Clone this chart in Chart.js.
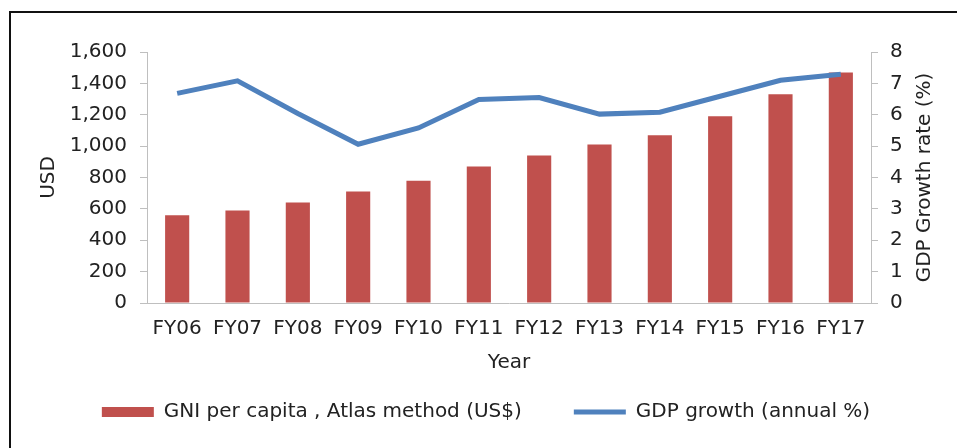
<!DOCTYPE html>
<html>
    <head>
        <title>GNI per capita and GDP growth</title>
        <script src="https://cdn.jsdelivr.net/npm/chart.js"></script>
        <style>
          html, body { margin: 0; background: #fff; overflow: hidden; }
          #myChart { display: block; }
        </style>
    </head>
    <body>
        <canvas id="myChart" width="957" height="448"></canvas>

        <script>
          const years = ['FY06','FY07','FY08','FY09','FY10','FY11','FY12','FY13','FY14','FY15','FY16','FY17'];
          const gniPerCapita = [560, 590, 640, 710, 780, 870, 940, 1010, 1070, 1190, 1330, 1470];
          const gdpGrowth = [6.68, 7.08, 6.04, 5.06, 5.58, 6.49, 6.55, 6.02, 6.08, 6.59, 7.10, 7.29];
          const gniLabel = 'GNI per capita , Atlas method (US$)';
          const gdpLabel = 'GDP growth (annual %)';
          const rightTitle = 'GDP Growth rate (%)';

          const font = { family: 'DejaVu Sans', size: 20 };
          const textColor = '#222';
          const axisColor = '#bfbfbf';

          // dark frame on the top and left edge, like the cropped source picture
          const framePlugin = {
            id: 'frame',
            beforeDraw(chart) {
              const ctx = chart.ctx;
              ctx.save();
              ctx.strokeStyle = '#111';
              ctx.lineWidth = 2;
              ctx.beginPath();
              ctx.moveTo(10, chart.height);
              ctx.lineTo(10, 12);
              ctx.lineTo(chart.width, 12);
              ctx.stroke();
              ctx.restore();
            }
          };

          // right axis title reads bottom-to-top, chart.js only rotates it the other way
          const rightTitlePlugin = {
            id: 'rightTitle',
            afterDraw(chart) {
              const ctx = chart.ctx;
              const area = chart.chartArea;
              ctx.save();
              ctx.translate(925, (area.top + area.bottom) / 2);
              ctx.rotate(-Math.PI / 2);
              ctx.font = '20px "DejaVu Sans"';
              ctx.fillStyle = textColor;
              ctx.textAlign = 'center';
              ctx.textBaseline = 'middle';
              ctx.fillText(rightTitle, 0, 0);
              ctx.restore();
            }
          };

          const ctx = document.getElementById('myChart');
          new Chart(ctx, {
            type: 'bar',
            data: {
              labels: years,
              datasets: [{
                label: gniLabel,
                data: gniPerCapita,
                backgroundColor: '#C0504D',
                barPercentage: 0.4,
                categoryPercentage: 1.0,
                yAxisID: 'y',
                order: 1
              }, {
                type: 'line',
                label: gdpLabel,
                data: gdpGrowth,
                borderColor: '#4F81BD',
                backgroundColor: '#4F81BD',
                borderWidth: 5,
                pointRadius: 0,
                tension: 0,
                yAxisID: 'y1',
                order: 0
              }]
            },
            options: {
              responsive: false,
              animation: false,
              layout: { padding: { top: 52, left: 15, right: 0, bottom: 16 } },
              plugins: {
                tooltip: { enabled: false },
                legend: {
                  position: 'bottom',
                  labels: {
                    font: font,
                    color: textColor,
                    usePointStyle: true,
                    pointStyleWidth: 52,
                    boxHeight: 10,
                    padding: 52,
                    generateLabels(chart) {
                      return chart.data.datasets.map((ds, i) => ({
                        text: ds.label,
                        datasetIndex: i,
                        fillStyle: ds.backgroundColor,
                        strokeStyle: ds.type === 'line' ? ds.borderColor : ds.backgroundColor,
                        lineWidth: ds.type === 'line' ? 5 : 0,
                        pointStyle: ds.type === 'line' ? 'line' : 'rect',
                        fontColor: textColor
                      }));
                    }
                  }
                }
              },
              scales: {
                x: {
                  grid: { display: false, drawTicks: false },
                  border: { display: true, color: axisColor, width: 1 },
                  ticks: { font: font, color: textColor, padding: 14, maxRotation: 0, autoSkip: false },
                  title: { display: true, text: 'Year', font: font, color: textColor, padding: { top: 0, bottom: -25 } },
                  afterFit(scale) { scale.height = 47; }
                },
                y: {
                  position: 'left',
                  min: 0,
                  max: 1600,
                  grid: { drawOnChartArea: false, drawTicks: true, tickLength: 7, color: axisColor },
                  border: { display: true, color: axisColor, width: 1 },
                  ticks: {
                    stepSize: 200,
                    font: font,
                    color: textColor,
                    padding: 13,
                    callback: v => v.toLocaleString('en-US')
                  },
                  title: { display: true, text: 'USD', font: font, color: textColor, padding: { top: 22, bottom: 0 } },
                  afterFit(scale) { scale.width = 132; }
                },
                y1: {
                  position: 'right',
                  min: 0,
                  max: 8,
                  grid: { drawOnChartArea: false, drawTicks: true, tickLength: 7, color: axisColor },
                  border: { display: true, color: axisColor, width: 1 },
                  ticks: { stepSize: 1, font: font, color: textColor, padding: 12 },
                  afterFit(scale) { scale.width = 86; }
                }
              }
            },
            plugins: [framePlugin, rightTitlePlugin]
          });
        </script>
    </body>
</html>
